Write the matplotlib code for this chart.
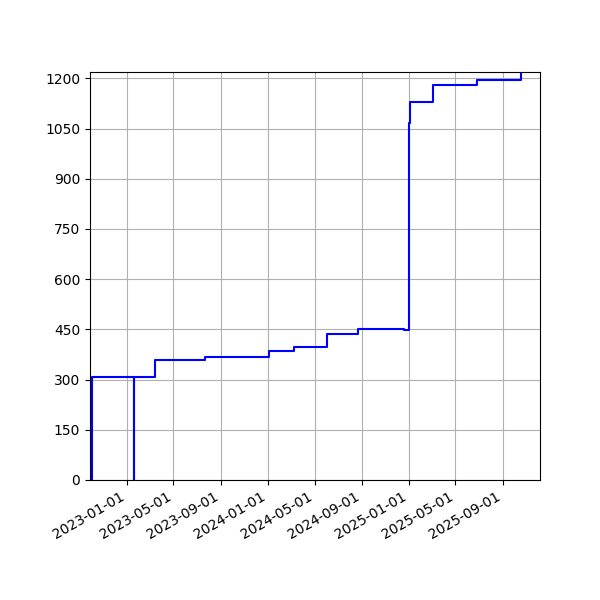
import matplotlib
matplotlib.use("Agg")
import matplotlib.pyplot as plt
import matplotlib.dates as mdates
import pandas as pd
from matplotlib.ticker import MultipleLocator

# step points (value holds from its date until the next one)
dates = [
    "2022-10-02", "2022-10-03", "2023-01-19", "2023-01-20", "2023-03-15",
    "2023-07-23", "2024-01-05", "2024-03-08", "2024-06-02", "2024-08-21",
    "2024-12-18", "2024-12-31", "2025-01-03", "2025-03-03", "2025-06-26",
    "2025-10-18",
]
values = [
    0, 307, 0, 307, 359,
    367, 386, 396, 437, 452,
    449, 1067, 1130, 1179, 1195,
    1240,
]

x = pd.to_datetime(dates)

fig, ax = plt.subplots(figsize=(6, 6), dpi=100)
ax.plot(x, values, color="blue", drawstyle="steps-post")

ax.set_xlim(pd.Timestamp("2022-09-27"), pd.Timestamp("2025-12-06"))
ax.set_ylim(0, 1219)
ax.yaxis.set_major_locator(MultipleLocator(150))
ax.xaxis.set_major_locator(mdates.MonthLocator(bymonth=[1, 5, 9]))
ax.xaxis.set_major_formatter(mdates.DateFormatter("%Y-%m-%d"))
ax.grid(True)

fig.autofmt_xdate()
fig.subplots_adjust(left=0.15, right=0.9, top=0.88, bottom=0.2)

plt.savefig("out.png", dpi=100)
plt.close()
